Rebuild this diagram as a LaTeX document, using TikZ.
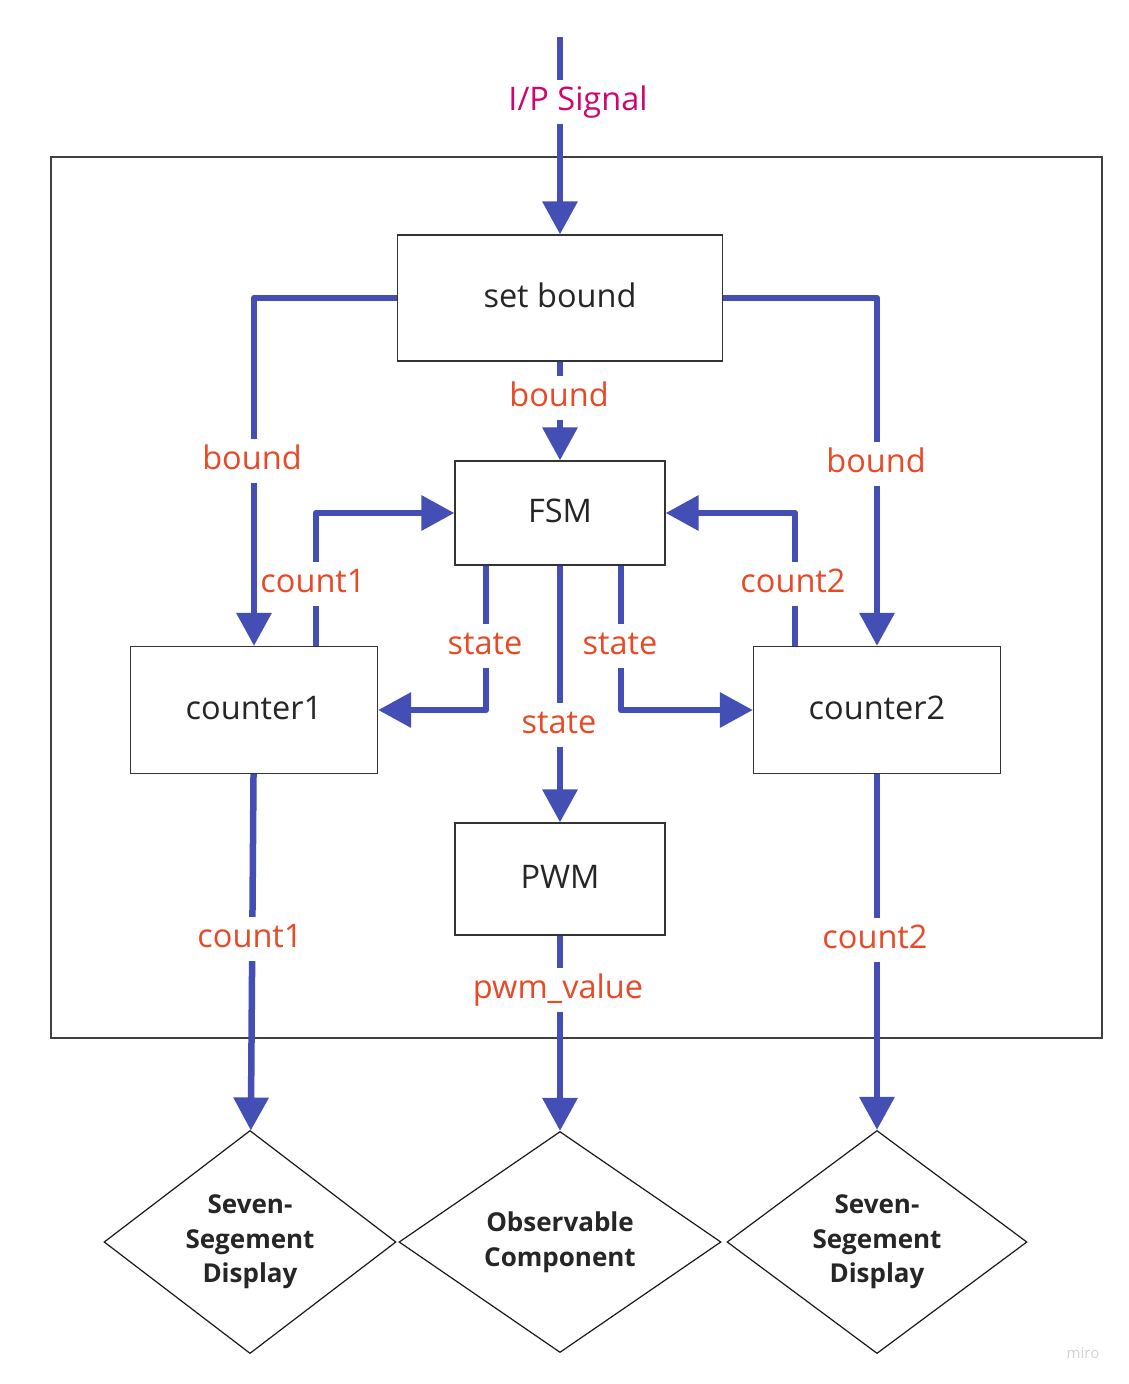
\documentclass[tikz,border=0pt]{standalone}
\usepackage{fontspec}
\setmainfont{Open Sans}
\usetikzlibrary{arrows.meta,shapes.geometric}
\definecolor{flowblue}{RGB}{67,79,181}
\definecolor{lblorange}{RGB}{232,74,39}
\definecolor{sigpink}{RGB}{208,6,110}

\begin{document}
\begin{tikzpicture}[x=1pt,y=-1pt,
    block/.style={draw=black!80, line width=1.3pt, fill=white, rectangle, inner sep=0pt,
                  text=black!85, text height=25pt, text depth=7pt,
                  font=\fontsize{32.5}{39}\selectfont},
    outnode/.style={draw=black!90, line width=1.2pt, fill=white, diamond, inner sep=0pt,
                  minimum width=292pt, minimum height=221pt, align=center,
                  text=black!85, font=\fontsize{26}{34.5}\selectfont\bfseries},
    flow/.style={draw=flowblue, line width=6.5pt, line join=round,
                 -{Triangle[length=33pt,width=34pt]}},
    lbl/.style={fill=white, text=lblorange, inner xsep=2pt, inner ysep=6pt,
                text height=24pt, text depth=8pt, font=\fontsize{32.5}{39}\selectfont}]
  \useasboundingbox (0,0) rectangle (1128,1384);
  %outer frame
  \draw[draw=black!75, line width=1.3pt] (51,157) rectangle (1102,1038);

  %blocks
  \node[block, minimum width=325pt, minimum height=126pt] (sb) at (560,298) {set bound};
  \node[block, minimum width=210pt, minimum height=104pt] (fsm) at (560,513) {FSM};
  \node[block, minimum width=247pt, minimum height=127pt] (c1) at (254,710) {counter1};
  \node[block, minimum width=247pt, minimum height=127pt] (c2) at (877,710) {counter2};
  \node[block, minimum width=210pt, minimum height=112pt] (pwm) at (560,879) {PWM};
  \node[outnode] (d1) at (250,1242) {Seven-\\Segement\\Display};
  \node[outnode, minimum width=322pt] (d2) at (560,1242) {Observable\\Component};
  \node[outnode, minimum width=300pt] (d3) at (877,1242) {Seven-\\Segement\\Display};

  %connectors
  \coordinate (in) at (560,37);
  \draw[flow] (in) -- (sb);
  \draw[flow] (sb) -- (fsm);
  \draw[flow] (sb.west) -| (c1);
  \draw[flow] (sb.east) -| (c2);
  \draw[flow] ([xshift=62pt]c1.north) |- (fsm.west);
  \draw[flow] ([xshift=-82pt]c2.north) |- (fsm.east);
  \draw[flow] ([xshift=-74pt]fsm.south) |- (c1.east);
  \draw[flow] ([xshift=61pt]fsm.south) |- (c2.west);
  \draw[flow] (fsm) -- (pwm);
  \draw[flow] (c1) -- (d1);
  \draw[flow] (pwm) -- (d2);
  \draw[flow] (c2) -- (d3);

  %labels on the lines
  \node[lbl, text=sigpink] (sig) at (578,102) {I/P Signal};
  \node[lbl] (bnd) at (559,398) {bound};
  \node[lbl] (bnd1) at (252,461) {bound};
  \node[lbl] (bnd2) at (876,464) {bound};
  \node[lbl] (cnt1) at (313,584) {count1};
  \node[lbl] (cnt2) at (793,584) {count2};
  \node[lbl] (st1) at (485,646) {state};
  \node[lbl] (st2) at (620,646) {state};
  \node[lbl] (st) at (559,725) {state};
  \node[lbl] (out1) at (250,939) {count1};
  \node[lbl] (pwmv) at (558,990) {pwm\_value};
  \node[lbl] (out2) at (875,940) {count2};

  \node[text=gray!35, font=\fontsize{15}{18}\selectfont] (miro) at (1083,1353) {miro};
\end{tikzpicture}
\end{document}
